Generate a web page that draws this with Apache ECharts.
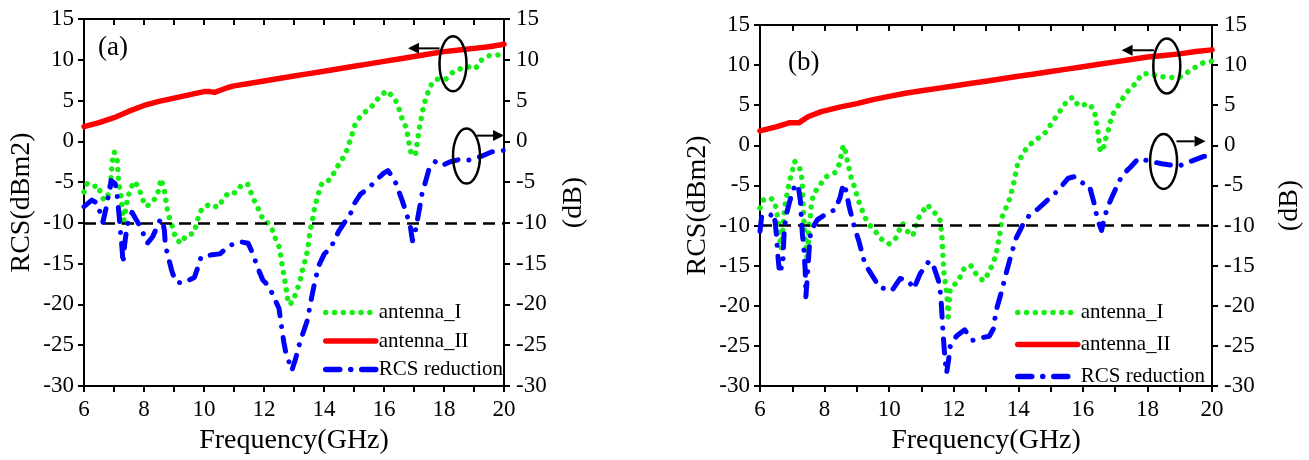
<!DOCTYPE html>
<html><head><meta charset="utf-8">
<script src="https://cdn.jsdelivr.net/npm/echarts@6/dist/echarts.min.js"></script>
<style>html,body{margin:0;padding:0;background:#fff}#c{width:1309px;height:460px}</style>
</head><body><div id="c"></div>
<script>
// ---------- data ----------
const xTickLabels = [6, 8, 10, 12, 14, 16, 18, 20];
const yTickLabels = [-30, -25, -20, -15, -10, -5, 0, 5, 10, 15];
const seriesNames = ['antenna_I', 'antenna_II', 'RCS reduction'];
const panelLabels = ['(a)', '(b)'];
const thresholdDb = -10;

// panel (a)
const a_antennaI = [[6.0,-6.2],[6.1,-5.2],[6.28,-5.6],[6.47,-5.4],[6.55,-6.3],[6.66,-7.2],[6.78,-7.0],[6.89,-4.8],[6.94,-2.5],[7.01,-1.3],[7.11,-2.4],[7.15,-4.8],[7.2,-6.0],[7.28,-8.3],[7.3,-10.3],[7.35,-10.5],[7.4,-8.1],[7.46,-6.9],[7.56,-5.7],[7.69,-4.9],[7.85,-5.9],[7.95,-7.1],[8.08,-8.0],[8.22,-7.6],[8.43,-6.8],[8.5,-5.7],[8.57,-4.6],[8.68,-6.1],[8.78,-8.4],[8.86,-9.6],[8.97,-10.7],[9.05,-11.9],[9.23,-12.5],[9.41,-11.5],[9.65,-11.3],[9.75,-10.2],[9.83,-9.0],[9.96,-8.1],[10.22,-7.7],[10.45,-8.1],[10.61,-7.3],[10.81,-6.3],[11.05,-6.3],[11.24,-5.4],[11.45,-5.2],[11.6,-6.6],[11.72,-7.6],[11.84,-8.5],[11.98,-9.7],[12.1,-9.9],[12.27,-10.8],[12.38,-11.9],[12.51,-13.0],[12.56,-14.1],[12.61,-15.3],[12.67,-16.5],[12.72,-17.7],[12.77,-18.9],[12.82,-20.0],[12.96,-19.7],[13.07,-18.5],[13.18,-17.4],[13.25,-16.2],[13.34,-15.0],[13.42,-13.9],[13.48,-12.6],[13.52,-11.4],[13.57,-10.4],[13.63,-9.3],[13.7,-7.9],[13.78,-6.9],[13.86,-5.8],[13.95,-5.0],[14.15,-4.8],[14.29,-4.2],[14.38,-3.4],[14.53,-2.7],[14.64,-2.0],[14.75,-1.2],[14.88,0.2],[15.05,2.2],[15.27,3.3],[15.55,4.1],[15.88,5.6],[16.1,6.2],[16.38,5.1],[16.49,4.1],[16.6,2.8],[16.75,1.6],[16.85,-0.6],[16.92,-1.7],[17.05,-1.6],[17.1,-0.4],[17.16,1.2],[17.3,4.0],[17.4,5.4],[17.55,6.8],[17.72,7.6],[18.05,7.6],[18.3,8.5],[18.61,9.0],[18.83,9.1],[19.05,8.9],[19.22,9.9],[19.5,10.5],[19.83,10.6],[20.0,10.6]];
const a_antennaII = [[6,1.8],[6.5,2.3],[7,2.9],[7.5,3.7],[8,4.4],[8.5,4.9],[9,5.3],[9.5,5.7],[10,6.1],[10.2,6.1],[10.35,6.0],[10.5,6.2],[10.8,6.6],[11,6.8],[11.5,7.1],[12,7.4],[12.5,7.7],[13,8.0],[13.5,8.3],[14,8.6],[14.5,8.9],[15,9.2],[15.5,9.5],[16,9.8],[16.5,10.1],[17,10.4],[17.5,10.7],[18,11.0],[18.5,11.2],[19,11.4],[19.5,11.6],[20,11.9]];
const a_reduction = [[6.0,-8.0],[6.26,-7.2],[6.45,-7.6],[6.55,-8.9],[6.63,-9.9],[6.73,-8.3],[6.78,-7.2],[6.86,-6.2],[6.9,-4.8],[7.04,-5.2],[7.11,-6.8],[7.18,-9.5],[7.23,-11.7],[7.27,-13.2],[7.3,-15.0],[7.36,-12.5],[7.41,-11.1],[7.46,-10.1],[7.6,-8.7],[7.72,-9.5],[7.82,-10.1],[8.0,-11.5],[8.11,-12.5],[8.29,-11.7],[8.53,-9.7],[8.6,-9.5],[8.68,-10.9],[8.71,-12.7],[8.81,-14.2],[8.92,-15.8],[9.05,-17.2],[9.28,-17.4],[9.68,-16.7],[9.8,-15.4],[9.9,-14.2],[10.27,-13.9],[10.53,-13.8],[10.84,-12.8],[11.2,-12.3],[11.47,-12.5],[11.63,-13.8],[11.78,-15.4],[11.96,-17.0],[12.15,-17.7],[12.33,-19.1],[12.5,-20.5],[12.58,-22.6],[12.66,-24.6],[12.72,-25.8],[12.93,-28.1],[13.05,-26.7],[13.2,-24.6],[13.44,-22.0],[13.59,-19.1],[13.7,-17.1],[13.83,-15.2],[14.01,-13.8],[14.22,-13.1],[14.48,-11.1],[14.69,-9.9],[14.84,-9.3],[15.0,-7.7],[15.21,-6.5],[15.5,-5.7],[15.73,-4.8],[15.99,-3.9],[16.13,-3.6],[16.35,-4.7],[16.48,-6.0],[16.61,-7.3],[16.77,-9.1],[16.88,-10.5],[16.95,-12.2],[17.03,-11.3],[17.14,-9.1],[17.21,-7.7],[17.27,-6.4],[17.38,-5.0],[17.5,-3.4],[17.71,-2.5],[17.92,-3.0],[18.21,-2.5],[18.54,-2.2],[18.85,-2.3],[19.27,-1.8],[19.58,-1.3],[20.0,-1.1]];

// panel (b)
const b_antennaI = [[6.0,-7.8],[6.1,-6.8],[6.24,-6.8],[6.34,-6.6],[6.45,-7.0],[6.52,-8.2],[6.58,-10.2],[6.63,-12.3],[6.66,-12.9],[6.71,-10.3],[6.76,-7.8],[6.81,-6.7],[6.86,-5.6],[6.92,-4.4],[7.0,-3.2],[7.07,-2.0],[7.21,-2.6],[7.28,-3.6],[7.31,-4.9],[7.33,-7.4],[7.35,-8.6],[7.41,-12.3],[7.47,-14.6],[7.52,-9.9],[7.57,-8.6],[7.59,-7.4],[7.65,-6.2],[7.8,-5.2],[8.06,-3.9],[8.32,-3.4],[8.46,-2.3],[8.53,-1.0],[8.58,0.0],[8.65,-0.8],[8.71,-2.0],[8.84,-4.3],[8.95,-5.4],[9.02,-6.6],[9.13,-7.7],[9.23,-8.8],[9.36,-9.8],[9.57,-10.7],[9.73,-11.6],[9.99,-12.3],[10.2,-11.6],[10.41,-9.7],[10.56,-10.7],[10.73,-11.3],[10.92,-9.0],[11.18,-7.4],[11.37,-8.2],[11.57,-9.2],[11.63,-11.1],[11.67,-14.0],[11.7,-16.0],[11.76,-17.7],[11.8,-19.1],[11.83,-21.4],[11.89,-17.9],[12.14,-16.9],[12.34,-15.2],[12.53,-15.0],[12.72,-16.2],[12.92,-16.9],[13.1,-15.8],[13.3,-13.8],[13.43,-11.1],[13.49,-9.0],[13.62,-7.8],[13.75,-6.5],[13.88,-4.3],[13.97,-2.5],[14.14,-1.0],[14.33,0.0],[14.59,0.8],[14.84,1.6],[15.16,3.5],[15.49,5.4],[15.68,6.0],[15.87,4.9],[16.19,5.2],[16.36,4.3],[16.42,2.7],[16.49,1.2],[16.51,-0.4],[16.62,-0.8],[16.67,0.4],[16.77,1.6],[16.9,3.7],[17.09,4.9],[17.29,6.2],[17.48,7.2],[17.67,7.8],[17.8,8.8],[18.06,9.0],[18.31,8.6],[18.63,8.5],[18.96,8.4],[19.2,9.0],[19.47,9.7],[19.73,10.3],[20.0,10.5]];
const b_antennaII = [[6,1.8],[6.5,2.3],[6.9,2.8],[7.2,2.8],[7.5,3.6],[7.9,4.2],[8.5,4.8],[9,5.2],[9.5,5.7],[10,6.1],[10.5,6.5],[11,6.8],[11.5,7.1],[12,7.4],[12.5,7.7],[13,8.0],[13.5,8.3],[14,8.6],[14.5,8.9],[15,9.2],[15.5,9.5],[16,9.8],[16.5,10.1],[17,10.4],[17.5,10.7],[18,11.0],[18.5,11.2],[19,11.4],[19.5,11.7],[20,11.9]];
const b_reduction = [[6.0,-10.7],[6.05,-8.9],[6.27,-9.0],[6.4,-8.4],[6.47,-9.5],[6.52,-11.8],[6.55,-13.6],[6.59,-15.3],[6.71,-15.3],[6.72,-13.2],[6.75,-10.7],[6.81,-8.7],[6.9,-7.3],[6.98,-6.1],[7.1,-4.8],[7.2,-5.5],[7.25,-6.9],[7.28,-9.1],[7.31,-10.9],[7.36,-13.1],[7.4,-15.5],[7.42,-18.9],[7.48,-15.6],[7.52,-13.1],[7.57,-10.7],[7.77,-9.3],[8.03,-8.6],[8.33,-8.0],[8.48,-6.5],[8.58,-4.8],[8.67,-5.7],[8.76,-7.6],[8.93,-10.3],[9.06,-11.9],[9.25,-14.8],[9.44,-16.0],[9.7,-17.7],[10.09,-18.1],[10.34,-16.6],[10.6,-16.9],[10.76,-17.9],[10.96,-16.0],[11.24,-14.4],[11.37,-15.0],[11.53,-16.9],[11.6,-18.7],[11.67,-23.4],[11.73,-26.7],[11.78,-28.4],[11.85,-26.5],[11.89,-25.1],[12.08,-23.8],[12.34,-23.0],[12.59,-24.3],[12.85,-24.0],[13.1,-23.8],[13.24,-22.8],[13.3,-20.8],[13.49,-18.1],[13.62,-16.0],[13.81,-13.2],[13.94,-11.5],[14.14,-9.9],[14.33,-8.8],[14.59,-8.0],[14.97,-6.6],[15.23,-5.6],[15.55,-4.1],[15.74,-3.9],[16.0,-4.7],[16.2,-5.0],[16.36,-7.4],[16.45,-9.2],[16.58,-10.6],[16.67,-8.9],[16.84,-7.0],[17.03,-5.3],[17.22,-3.7],[17.48,-2.7],[17.73,-1.6],[17.99,-1.9],[18.44,-2.3],[18.96,-2.6],[19.28,-2.1],[19.73,-1.4],[20.0,-1.2]];

// annotation anchors in data units: ellipse centre, arrow start, arrow end
const a_ellipses = [[18.3, 9.5], [18.75, -1.8]];
const a_arrows = [[[17.85, 11.4], [16.8, 11.4]], [[19.1, 0.7], [20.0, 0.7]]];
const b_ellipses = [[18.6, 9.9], [18.5, -2.0]];
const b_arrows = [[[18.2, 11.85], [17.2, 11.85]], [[18.9, 0.5], [19.8, 0.5]]];

// ---------- chart ----------
const FONT = 'Liberation Serif';
const chart = echarts.init(document.getElementById('c'), null, {renderer: 'canvas'});
const grids = [
  {left: 84, top: 19, width: 420, height: 367},
  {left: 760, top: 25, width: 452, height: 364}
];
const rightNameGaps = [56, 64];
const panels = [
  {I: a_antennaI, II: a_antennaII, R: a_reduction},
  {I: b_antennaI, II: b_antennaII, R: b_reduction}
];
const GREEN = '#16ee16';
const axisLine = {show: true, onZero: false, lineStyle: {color: '#000', width: 2}};
const xAxes = [], yAxes = [], series = [];
grids.forEach((g, i) => {
  xAxes.push({
    type: 'value', gridIndex: i, position: 'bottom',
    min: xTickLabels[0], max: xTickLabels[xTickLabels.length - 1], interval: 1,
    axisLine, splitLine: {show: false},
    axisTick: {show: true, inside: false, length: 6, lineStyle: {color: '#000', width: 2}},
    axisLabel: {color: '#000', fontFamily: FONT, fontSize: 23, margin: 12,
      formatter: v => (xTickLabels.indexOf(v) >= 0 ? String(v) : '')},
    name: 'Frequency(GHz)', nameLocation: 'middle', nameGap: 41,
    nameTextStyle: {color: '#000', fontFamily: FONT, fontSize: 28}
  });
  xAxes.push({
    type: 'value', gridIndex: i, position: 'top',
    min: xTickLabels[0], max: xTickLabels[xTickLabels.length - 1], interval: 1,
    axisLine, splitLine: {show: false},
    axisTick: {show: true, inside: true, length: 6, lineStyle: {color: '#000', width: 2}},
    axisLabel: {show: false}
  });
  const yBase = {
    type: 'value', gridIndex: i,
    min: yTickLabels[0], max: yTickLabels[yTickLabels.length - 1], interval: 5,
    axisLine, splitLine: {show: false},
    axisTick: {show: true, inside: false, length: 6, lineStyle: {color: '#000', width: 2}},
    nameLocation: 'middle', nameRotate: 90,
    nameTextStyle: {color: '#000', fontFamily: FONT, fontSize: 28}
  };
  yAxes.push(Object.assign({}, yBase, {position: 'left', name: 'RCS(dBm2)', nameGap: 48,
    axisLabel: {color: '#000', fontFamily: FONT, fontSize: 23, margin: 10}}));
  yAxes.push(Object.assign({}, yBase, {position: 'right', name: '(dB)', nameGap: rightNameGaps[i],
    axisLabel: {color: '#000', fontFamily: FONT, fontSize: 23, margin: 12}}));
  const p = panels[i];
  series.push({
    name: seriesNames[0], type: 'line', xAxisIndex: 2 * i, yAxisIndex: 2 * i,
    data: p.I, symbol: 'none', smooth: false, z: 3,
    lineStyle: {color: GREEN, width: 5.5, type: [0.01, 8.8], cap: 'round', join: 'round'},
    itemStyle: {color: GREEN},
    markLine: {
      silent: true, symbol: 'none', label: {show: false},
      lineStyle: {color: '#000', width: 2.5, type: [12, 7]},
      data: [{yAxis: thresholdDb}]
    }
  });
  series.push({
    name: seriesNames[1], type: 'line', xAxisIndex: 2 * i, yAxisIndex: 2 * i,
    data: p.II, symbol: 'none', z: 4,
    lineStyle: {color: '#ff0000', width: 5.5, type: 'solid', cap: 'round', join: 'round'},
    itemStyle: {color: '#ff0000'}
  });
  series.push({
    name: seriesNames[2], type: 'line', xAxisIndex: 2 * i, yAxisIndex: 2 * i + 1,
    data: p.R, symbol: 'none', z: 5,
    lineStyle: {color: '#0000ff', width: 5, type: [14, 11, 0.01, 11], cap: 'round', join: 'round'},
    itemStyle: {color: '#0000ff'}
  });
});

const legendBase = {
  orient: 'vertical', itemHeight: 14,
  data: seriesNames, selectedMode: false,
  itemStyle: {opacity: 0},
  lineStyle: {width: 5.5, cap: 'round'},
  textStyle: {color: '#000', fontFamily: FONT, fontSize: 21, padding: [0, 0, 0, -2]}
};
const option = {
  animation: false,
  backgroundColor: '#fff',
  grid: grids,
  xAxis: xAxes,
  yAxis: yAxes,
  series,
  legend: [
    Object.assign({}, legendBase, {left: 318, top: 297, itemWidth: 50, itemGap: 7.5}),
    Object.assign({}, legendBase, {left: 1010, top: 297, itemWidth: 60, itemGap: 11})
  ]
};
chart.setOption(option);

// annotations (ellipses and arrows) placed through the axes' scales
function annot(gridIdx, ellipses, arrows) {
  const out = [];
  const finder = {xAxisIndex: 2 * gridIdx, yAxisIndex: 2 * gridIdx};
  ellipses.forEach(c => {
    const pt = chart.convertToPixel(finder, c);
    out.push({type: 'ellipse', shape: {cx: pt[0], cy: pt[1], rx: 13.5, ry: 27.5},
      style: {fill: 'none', stroke: '#000', lineWidth: 2.5}, z: 100});
  });
  arrows.forEach(a => {
    const s = chart.convertToPixel(finder, a[0]);
    const e = chart.convertToPixel(finder, a[1]);
    const dir = Math.sign(e[0] - s[0]);
    const head = 11;
    out.push({type: 'line', shape: {x1: s[0], y1: s[1], x2: e[0] - dir * head, y2: e[1]},
      style: {stroke: '#000', lineWidth: 2}, z: 100});
    out.push({type: 'polygon', shape: {points: [[e[0], e[1]], [e[0] - dir * head, e[1] - 5.5], [e[0] - dir * head, e[1] + 5.5]]},
      style: {fill: '#000'}, z: 100});
  });
  return out;
}
const graphics = [].concat(annot(0, a_ellipses, a_arrows), annot(1, b_ellipses, b_arrows));
graphics.push({type: 'text', left: 98, top: 34, style: {text: panelLabels[0], font: '27px "Liberation Serif"', fill: '#000'}});
graphics.push({type: 'text', left: 788, top: 49, style: {text: panelLabels[1], font: '27px "Liberation Serif"', fill: '#000'}});
chart.setOption({graphic: graphics});
</script></body></html>
